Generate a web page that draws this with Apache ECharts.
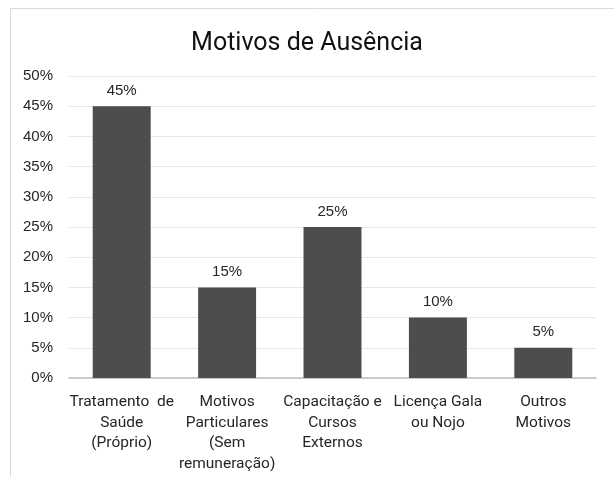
<!DOCTYPE html>
<html><head><meta charset="utf-8">
<script src="https://cdn.jsdelivr.net/npm/echarts@6/dist/echarts.min.js"></script>
<style>html,body{margin:0;padding:0;background:#fff}#c{width:614px;height:477px}</style>
</head><body><div id="c"></div>
<script>
const categories = ["Tratamento  de\nSaúde\n(Próprio)", "Motivos\nParticulares\n(Sem\nremuneração)", "Capacitação e\nCursos\nExternos", "Licença Gala\nou Nojo", "Outros\nMotivos"];
const values = [45, 15, 25, 10, 5];
const yTicks = { min: 0, max: 50, interval: 5 };
const titleText = "Motivos de Ausência";

const FONT = "'Roboto', sans-serif";
const chart = echarts.init(document.getElementById('c'), null, { renderer: 'canvas' });
chart.setOption({
  backgroundColor: '#fff',
  animation: false,
  graphic: [{ type: 'rect', shape: { x: 10.5, y: 8.5, width: 700, height: 600 }, style: { fill: 'none', stroke: '#d9d9d9', lineWidth: 1 }, z: -1 }],
  title: { text: titleText, left: 'center', top: 26, textStyle: { fontFamily: "'Roboto', sans-serif", fontSize: 25, fontWeight: 'normal', color: '#111' } },
  grid: { left: 69, right: 18, top: 76, bottom: 99 },
  xAxis: {
    type: 'category', data: categories,
    axisTick: { show: false },
    axisLine: { lineStyle: { color: '#bfbfbf', width: 1.5 } },
    axisLabel: { interval: 0, fontFamily: FONT, fontSize: 15.5, color: '#262626', lineHeight: 20.5, margin: 14 }
  },
  yAxis: {
    type: 'value', min: yTicks.min, max: yTicks.max, interval: yTicks.interval,
    axisLine: { show: false }, axisTick: { show: false },
    splitLine: { lineStyle: { color: '#e6e6e6' } },
    axisLabel: { formatter: '{value}%', fontFamily: "'Liberation Sans', Arial, sans-serif", fontSize: 15, color: '#262626', margin: 16 }
  },
  series: [{
    type: 'bar', data: values, barWidth: '55%',
    itemStyle: { color: '#4d4d4d' },
    label: { show: true, position: 'top', formatter: '{c}%', distance: 8, fontFamily: "'Liberation Sans', Arial, sans-serif", fontSize: 15, color: '#262626' }
  }]
});
</script></body></html>
